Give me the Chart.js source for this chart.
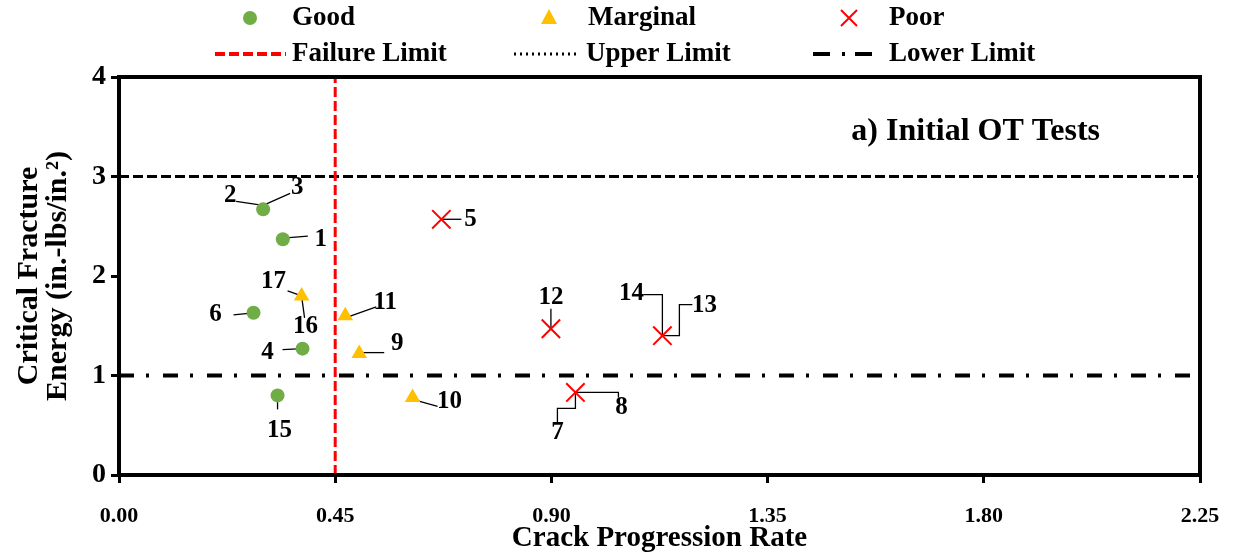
<!DOCTYPE html>
<html>
<head>
<meta charset="utf-8">
<script src="https://cdn.jsdelivr.net/npm/chart.js@4"></script>
<style>
  html, body { margin: 0; padding: 0; background: #fff; }
  #wrap { width: 1237px; height: 556px; }
</style>
</head>
<body>
<div id="wrap"><canvas id="grafico"></canvas></div>
<script>
// data
const goodX = [0.300, 0.341, 0.280, 0.382, 0.330];
const goodY = [2.67, 2.37, 1.63, 1.27, 0.80];
const goodIds = ["2,3", "1", "6", "4", "15"];

const marginalX = [0.380, 0.471, 0.500, 0.611];
const marginalY = [1.80, 1.60, 1.22, 0.78];
const marginalIds = ["17,16", "11", "9", "10"];

const poorX = [0.671, 0.899, 1.131, 0.950];
const poorY = [2.57, 1.47, 1.40, 0.83];
const poorIds = ["5", "12", "14,13", "7,8"];

const failureLimit = 0.45;
const upperLimit = 3;
const lowerLimit = 1;

const xTicks = [0, 0.45, 0.90, 1.35, 1.80, 2.25];
const yTicks = [0, 1, 2, 3, 4];

const FONT = "'Liberation Serif', 'Times New Roman', serif";

// label placement (pixel offsets from the marker) and leader lines
const labelStyle = {
  "2":  { t: [-33, -14], l: [[-27, -8], [0, -4]] },
  "3":  { t: [34, -22],  l: [[0, -4], [27, -16]] },
  "1":  { t: [38, 0],    l: [[0, -1], [25, -3]] },
  "6":  { t: [-38, 2],   l: [[-20, 2], [0, 0]] },
  "4":  { t: [-35, 4],   l: [[-20, 1], [0, 0]] },
  "15": { t: [2, 35],    l: [[0, 0], [0, 14]] },
  "17": { t: [-28, -14], l: [[-14, -5], [0, 0]] },
  "16": { t: [4, 31],    l: [[0, 0], [3, 22]] },
  "11": { t: [40, -13],  l: [[0, 2], [31, -9]] },
  "9":  { t: [38, -10],  l: [[0, -1], [25, -1]] },
  "10": { t: [37, 4],    l: [[0, 2], [25, 9]] },
  "5":  { t: [29, 0],    l: [[0, 0], [20, 0]] },
  "12": { t: [0, -31],   l: [[0, 0], [0, -20]] },
  "14": { t: [-31, -42], l: [[-19, -41], [0, -41], [0, 0]] },
  "13": { t: [42, -30],  l: [[0, 0], [17, 0], [17, -31], [30, -31]] },
  "8":  { t: [46, 15],   l: [[0, 0], [43, 0], [43, 5]] },
  "7":  { t: [-18, 40],  l: [[0, 0], [0, 16], [-18, 16], [-18, 30]] }
};

const pts = (xs, ys) => xs.map((x, i) => ({ x: x, y: ys[i] }));

const pointLabels = {
  id: "pointLabels",
  beforeDatasetsDraw(chart) {
    const c = chart.ctx;
    c.save();
    chart.data.datasets.forEach((ds, di) => {
      if (!ds.ids) return;
      const meta = chart.getDatasetMeta(di);
      meta.data.forEach((el, i) => {
        ds.ids[i].split(",").forEach(id => {
          const s = labelStyle[id];
          if (!s) return;
          c.strokeStyle = "#000";
          c.lineWidth = 1.3;
          c.setLineDash([]);
          c.beginPath();
          s.l.forEach((p, k) => {
            if (k === 0) c.moveTo(el.x + p[0], el.y + p[1]);
            else c.lineTo(el.x + p[0], el.y + p[1]);
          });
          c.stroke();
          c.fillStyle = "#000";
          c.font = "bold 25px " + FONT;
          c.textAlign = "center";
          c.textBaseline = "middle";
          c.fillText(id, el.x + s.t[0], el.y + s.t[1]);
        });
      });
    });
    c.restore();
  }
};

const frame = {
  id: "frame",
  afterDraw(chart) {
    const c = chart.ctx, a = chart.chartArea;
    c.save();
    c.strokeStyle = "#000";
    c.lineWidth = 4;
    c.setLineDash([]);
    c.strokeRect(a.left, a.top, a.right - a.left, a.bottom - a.top);

    // panel caption
    c.fillStyle = "#000";
    c.font = "bold 32px " + FONT;
    c.textAlign = "right";
    c.textBaseline = "middle";
    c.fillText("a) Initial OT Tests", a.right - 100, a.top + 55);

    // legend, two rows like the original
    c.font = "bold 27px " + FONT;
    c.textAlign = "left";
    const r1 = 18, r2 = 54;
    c.fillStyle = "#70AD47";
    c.beginPath(); c.arc(250, r1, 7, 0, Math.PI * 2); c.fill();
    c.fillStyle = "#000"; c.fillText("Good", 292, r1);

    c.fillStyle = "#FFC000";
    c.beginPath(); c.moveTo(549, r1 - 9); c.lineTo(557, r1 + 6); c.lineTo(541, r1 + 6); c.closePath(); c.fill();
    c.fillStyle = "#000"; c.fillText("Marginal", 588, r1);

    c.strokeStyle = "#FF0000"; c.lineWidth = 2;
    c.beginPath(); c.moveTo(841, r1 - 8); c.lineTo(857, r1 + 8); c.moveTo(857, r1 - 8); c.lineTo(841, r1 + 8); c.stroke();
    c.fillStyle = "#000"; c.fillText("Poor", 889, r1);

    c.strokeStyle = "#FF0000"; c.lineWidth = 4; c.setLineDash([10, 4]);
    c.beginPath(); c.moveTo(215, r2); c.lineTo(286, r2); c.stroke();
    c.fillText("Failure Limit", 292, r2);

    c.strokeStyle = "#000"; c.lineWidth = 3; c.setLineDash([2, 4]);
    c.beginPath(); c.moveTo(514, r2); c.lineTo(580, r2); c.stroke();
    c.fillText("Upper Limit", 586, r2);

    c.lineWidth = 4; c.setLineDash([17, 12, 3, 10]);
    c.beginPath(); c.moveTo(813, r2); c.lineTo(872, r2); c.stroke();
    c.fillText("Lower Limit", 889, r2);
    c.restore();
  }
};

const ctx = document.getElementById("grafico");

new Chart(ctx, {
  type: "scatter",
  data: {
    datasets: [
      {
        label: "Good",
        data: pts(goodX, goodY),
        ids: goodIds,
        pointStyle: "circle",
        pointRadius: 7,
        pointHoverRadius: 7,
        backgroundColor: "#70AD47",
        borderColor: "#70AD47",
        borderWidth: 0,
        order: 0
      },
      {
        label: "Marginal",
        data: pts(marginalX, marginalY),
        ids: marginalIds,
        pointStyle: "triangle",
        pointRadius: 9,
        pointHoverRadius: 9,
        backgroundColor: "#FFC000",
        borderColor: "#FFC000",
        borderWidth: 0,
        order: 0
      },
      {
        label: "Poor",
        data: pts(poorX, poorY),
        ids: poorIds,
        pointStyle: "crossRot",
        pointRadius: 13,
        pointHoverRadius: 13,
        borderColor: "#FF0000",
        borderWidth: 2,
        order: 0
      },
      {
        label: "Failure Limit",
        type: "line",
        data: [{ x: failureLimit, y: yTicks[0] }, { x: failureLimit, y: yTicks[yTicks.length - 1] }],
        borderColor: "#FF0000",
        borderWidth: 3,
        borderDash: [10, 4],
        pointRadius: 0,
        order: 1
      },
      {
        label: "Upper Limit",
        type: "line",
        data: [{ x: xTicks[0], y: upperLimit }, { x: xTicks[xTicks.length - 1], y: upperLimit }],
        borderColor: "#000",
        borderWidth: 3,
        borderDash: [10, 4],
        pointRadius: 0,
        order: 1
      },
      {
        label: "Lower Limit",
        type: "line",
        data: [{ x: xTicks[0], y: lowerLimit }, { x: xTicks[xTicks.length - 1], y: lowerLimit }],
        borderColor: "#000",
        borderWidth: 4,
        borderDash: [15, 12, 3, 14],
        pointRadius: 0,
        order: 1
      }
    ]
  },
  options: {
    responsive: true,
    maintainAspectRatio: false,
    animation: false,
    layout: {
      padding: { top: 77, right: 37, left: 0, bottom: 0 }
    },
    plugins: {
      legend: { display: false },
      tooltip: { enabled: false }
    },
    scales: {
      x: {
        type: "linear",
        min: 0,
        max: 2.25,
        afterBuildTicks: s => { s.ticks = xTicks.map(v => ({ value: v })); },
        afterFit: s => { s.height = 81; s.paddingLeft = 0; s.paddingRight = 0; },
        grid: {
          drawOnChartArea: false,
          drawTicks: true,
          tickLength: 8,
          color: "#000",
          lineWidth: 3
        },
        border: { display: false },
        ticks: {
          color: "#000",
          padding: 20,
          maxRotation: 0,
          font: { family: FONT, weight: "bold", size: 22 },
          callback: v => Number(v).toFixed(2)
        },
        title: {
          display: true,
          text: "Crack Progression Rate",
          color: "#000",
          padding: { top: 0, bottom: 0 },
          font: { family: FONT, weight: "bold", size: 29 }
        }
      },
      y: {
        min: 0,
        max: 4,
        afterBuildTicks: s => { s.ticks = yTicks.map(v => ({ value: v })); },
        afterFit: s => { s.width = 119; s.paddingTop = 0; s.paddingBottom = 0; },
        grid: {
          drawOnChartArea: false,
          drawTicks: true,
          tickLength: 8,
          color: "#000",
          lineWidth: 3
        },
        border: { display: false },
        ticks: {
          color: "#000",
          padding: 5,
          font: { family: FONT, weight: "bold", size: 28 }
        },
        title: {
          display: true,
          text: ["Critical Fracture", "Energy (in.-lbs/in.\u00B2)"],
          color: "#000",
          padding: { top: 15, bottom: 0 },
          font: { family: FONT, weight: "bold", size: 30, lineHeight: 0.95 }
        }
      }
    }
  },
  plugins: [pointLabels, frame]
});
</script>
</body>
</html>
